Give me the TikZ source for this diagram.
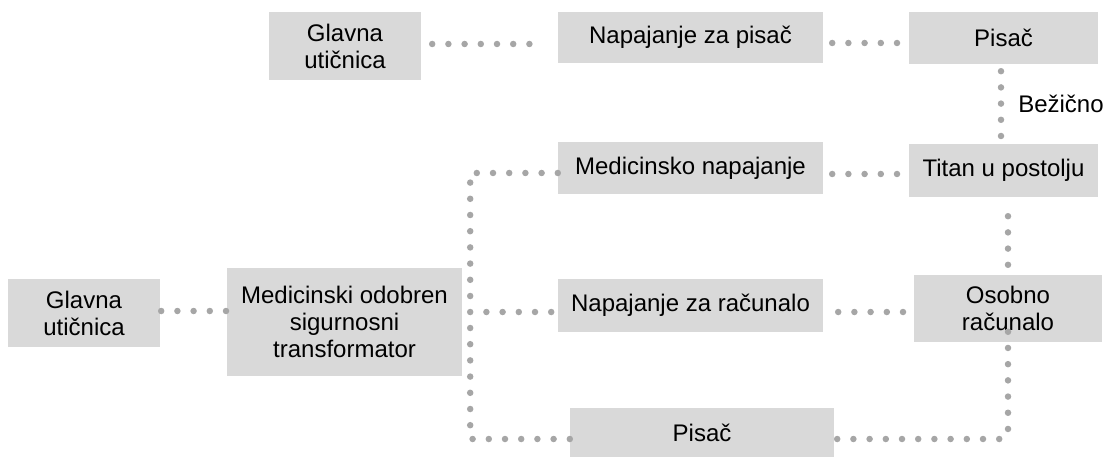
\documentclass[tikz,border=0pt]{standalone}
\usepackage{fontspec}
\setmainfont{Liberation Sans}
\usepackage{tikz}

\definecolor{boxgray}{RGB}{217,217,217}
\definecolor{dotgray}{RGB}{166,166,166}

\begin{document}
\begin{tikzpicture}[x=1pt,y=-1pt]

  \tikzstyle{box}=[rectangle,fill=boxgray,align=center,inner sep=0pt,
                   font=\fontsize{24pt}{27pt}\selectfont]
  \tikzstyle{link}=[draw=dotgray,line width=6.5pt,line cap=round,
                    dash pattern=on 0pt off 16.2pt]

  \useasboundingbox (0,0) rectangle (1108,457);

  \node[box,minimum width=152pt,minimum height=68pt]  (GT) at (345,46)      {Glavna\\utičnica};
  \node[box,minimum width=265pt,minimum height=51pt]  (NP) at (690.5,37.5)  {Napajanje za pisač};
  \node[box,minimum width=189pt,minimum height=52pt]  (PT) at (1003.5,38)   {Pisač};
  \node[box,minimum width=265pt,minimum height=52pt]  (MN) at (690.5,168)   {Medicinsko napajanje};
  \node[box,minimum width=189pt,minimum height=53pt]  (TI) at (1003.5,170.5) {Titan u postolju};
  \node[box,minimum width=265pt,minimum height=53pt]  (NR) at (690.5,305.5) {Napajanje za računalo};
  \node[box,minimum width=188pt,minimum height=67pt]  (OR) at (1008,308.5)  {Osobno\\računalo};
  \node[box,minimum width=152pt,minimum height=68pt]  (GL) at (84,313)      {Glavna\\utičnica};
  \node[box,minimum width=235pt,minimum height=108pt] (MO) at (344.5,322)   {Medicinski odobren\\sigurnosni\\transformator};
  \node[box,minimum width=264pt,minimum height=50pt]  (PB) at (702,433)     {Pisač};

  \coordinate (bus) at ([xshift=8pt,yshift=10pt]MO.east);

  \path
  ([yshift=2pt]GT.east)    edge [link,shorten <=11pt,shorten >=25pt] ([yshift=-6.5pt]NP.west)
  ([yshift=-5.5pt]NP.east) edge [link,shorten <=9pt,shorten >=11pt]  ([yshift=-5pt]PT.west)
  ([xshift=-2.5pt]PT.south) edge [link,shorten <=7pt,shorten >=7.5pt]
       node [right=14pt,inner sep=0pt,text=black,font=\fontsize{24pt}{27pt}\selectfont] {Bežično}
                           ([xshift=-2.5pt]TI.north)
  ([yshift=-6pt]MN.east)   edge [link,shorten <=9pt,shorten >=10pt]  ([yshift=-3.5pt]TI.west)
  ([xshift=4.5pt]TI.south) edge [link,shorten <=19pt,shorten >=10pt] (OR.north)
  ([yshift=-6.5pt]NR.east) edge [link,shorten <=15pt,shorten >=8pt]  ([yshift=-3.5pt]OR.west)
  ([yshift=2pt]GL.east)    edge [link,shorten <=1pt,shorten >=0.5pt] ([yshift=11pt]MO.west)
  ;

  \draw[link,shorten >=6pt] (bus) -- ([yshift=-6.5pt]NR.west);
  \draw[link] ([yshift=-5pt]MN.west) -| (bus);
  \draw[link] ([yshift=-6pt]PB.west) -| (bus);
  \draw[link,rounded corners=6pt,shorten <=3pt] ([yshift=-6pt]PB.east) -| ([yshift=11pt]OR.south);
\end{tikzpicture}
\end{document}
